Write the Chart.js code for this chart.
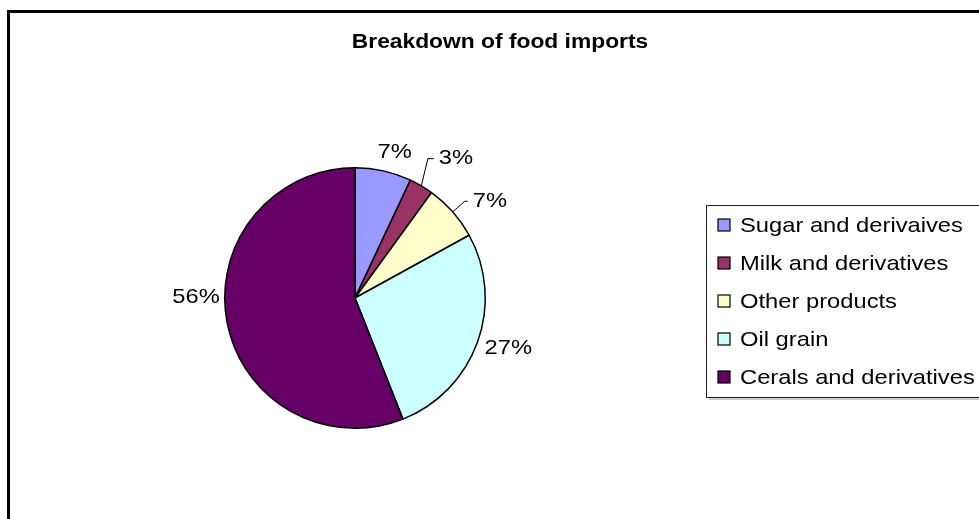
<!DOCTYPE html>
<html>
<head>
<meta charset="utf-8">
<script src="https://cdn.jsdelivr.net/npm/chart.js@4.4.1/dist/chart.umd.min.js"></script>
<style>
  html, body { margin: 0; padding: 0; background: #fff; overflow: hidden; }
  canvas { display: block; }
</style>
</head>
<body>
<canvas id="importsChart" width="979" height="519"></canvas>
<script>
const chartTitle = 'Breakdown of food imports';
const categories = ['Sugar and derivaives', 'Milk and derivatives', 'Other products', 'Oil grain', 'Cerals and derivatives'];
const shares = [7, 3, 7, 27, 56];
const sliceColors = ['#9999ff', '#993366', '#ffffcc', '#ccffff', '#660066'];

const FONT_FAMILY = '"Liberation Sans", Arial, sans-serif';
const TITLE_FONT = { font: 'bold 20px ' + FONT_FAMILY, stretch: 1.14 };
const BODY_FONT = { font: '21px ' + FONT_FAMILY, stretch: 1.13 };

function textWidth(ctx, text, f) {
  ctx.save();
  ctx.font = f.font;
  const w = ctx.measureText(text).width * f.stretch;
  ctx.restore();
  return w;
}

function drawText(ctx, text, x, y, align, f) {
  ctx.save();
  ctx.font = f.font;
  ctx.textAlign = align;
  ctx.translate(x, y);
  ctx.scale(f.stretch, 1);
  ctx.fillText(text, 0, 0);
  ctx.restore();
}

// white background plus the heavy frame along the top and left edges
const framePlugin = {
  id: 'frame',
  beforeDraw(chart) {
    const ctx = chart.ctx;
    ctx.save();
    ctx.fillStyle = '#fff';
    ctx.fillRect(0, 0, chart.width, chart.height);
    ctx.fillStyle = '#000';
    ctx.fillRect(7, 10, chart.width, 3);
    ctx.fillRect(7, 10, 3, chart.height);
    ctx.restore();
  }
};

// title and boxed legend on the right
const titleLegendPlugin = {
  id: 'titleLegend',
  afterDraw(chart) {
    const ctx = chart.ctx;
    ctx.save();
    ctx.fillStyle = '#000';
    ctx.textBaseline = 'alphabetic';
    drawText(ctx, chartTitle, 500, 48, 'center', TITLE_FONT);

    // legend frame with a soft shadow
    const bx = 706.5, by = 205.5, bw = 300, bh = 192;
    ctx.strokeStyle = '#9a9a9a';
    ctx.lineWidth = 1;
    ctx.beginPath();
    ctx.moveTo(bx + 2, by + bh + 1.5);
    ctx.lineTo(bx + bw, by + bh + 1.5);
    ctx.stroke();
    ctx.strokeStyle = '#222';
    ctx.strokeRect(bx, by, bw, bh);

    const ds = chart.data.datasets[0];
    chart.data.labels.forEach((label, i) => {
      const cy = 225 + i * 38;
      ctx.fillStyle = ds.backgroundColor[i];
      ctx.fillRect(718, cy - 6, 12, 12);
      ctx.strokeStyle = '#000';
      ctx.lineWidth = 1.2;
      ctx.strokeRect(718, cy - 6, 12, 12);
      ctx.fillStyle = '#000';
      ctx.textBaseline = 'middle';
      drawText(ctx, label, 740, cy + 1, 'left', BODY_FONT);
    });
    ctx.restore();
  }
};

// percentage labels outside the pie, with elbow leaders for the crowded ones
const sliceLabelPlugin = {
  id: 'sliceLabels',
  afterDatasetsDraw(chart, args, opts) {
    const ctx = chart.ctx;
    const meta = chart.getDatasetMeta(0);
    ctx.save();
    ctx.fillStyle = '#000';
    ctx.strokeStyle = '#000';
    ctx.lineWidth = 1;
    ctx.textBaseline = 'middle';
    meta.data.forEach((arc, i) => {
      const o = opts.slices[i] || {};
      const { x, y, startAngle, endAngle, outerRadius } =
        arc.getProps(['x', 'y', 'startAngle', 'endAngle', 'outerRadius'], true);
      const mid = (startAngle + endAngle) / 2;
      const ang = mid + (o.shift || 0) * Math.PI / 180;
      const cos = Math.cos(ang), sin = Math.sin(ang);
      const text = shares[i] + '%';

      if (o.leader) {
        const ax = x + outerRadius * Math.cos(mid);
        const ay = y + outerRadius * Math.sin(mid);
        const ex = x + (outerRadius + o.leader) * cos;
        const ey = y + (outerRadius + o.leader) * sin;
        ctx.beginPath();
        ctx.moveTo(ax, ay);
        ctx.lineTo(ex, ey);
        ctx.lineTo(ex + o.tail, ey);
        ctx.stroke();
        drawText(ctx, text, ex + o.tail + 5, ey, 'left', BODY_FONT);
      } else {
        const gap = o.gap || 10;
        const w = textWidth(ctx, text, BODY_FONT);
        const h = 20;
        const px = x + (outerRadius + gap) * cos;
        const py = y + (outerRadius + gap) * sin;
        drawText(ctx, text, px + cos * w / 2, py + sin * h / 2, 'center', BODY_FONT);
      }
    });
    ctx.restore();
  }
};

const ctx = document.getElementById('importsChart').getContext('2d');

const importsChart = new Chart(ctx, {
  type: 'pie',
  data: {
    labels: categories,
    datasets: [{
      data: shares,
      backgroundColor: sliceColors,
      borderColor: '#000',
      borderWidth: 1.5
    }]
  },
  options: {
    responsive: false,
    animation: false,
    layout: {
      padding: { left: 224, right: 493, top: 167, bottom: 90 }
    },
    plugins: {
      legend: { display: false },
      title: { display: false },
      tooltip: { enabled: false },
      sliceLabels: {
        slices: [
          { gap: 10, shift: 2 },
          { leader: 27, shift: -3, tail: 6 },
          { leader: 16, shift: 0, tail: 3 },
          { gap: 9, shift: 0 },
          { gap: 5, shift: 11 }
        ]
      }
    }
  },
  plugins: [framePlugin, sliceLabelPlugin, titleLegendPlugin]
});
</script>
</body>
</html>
